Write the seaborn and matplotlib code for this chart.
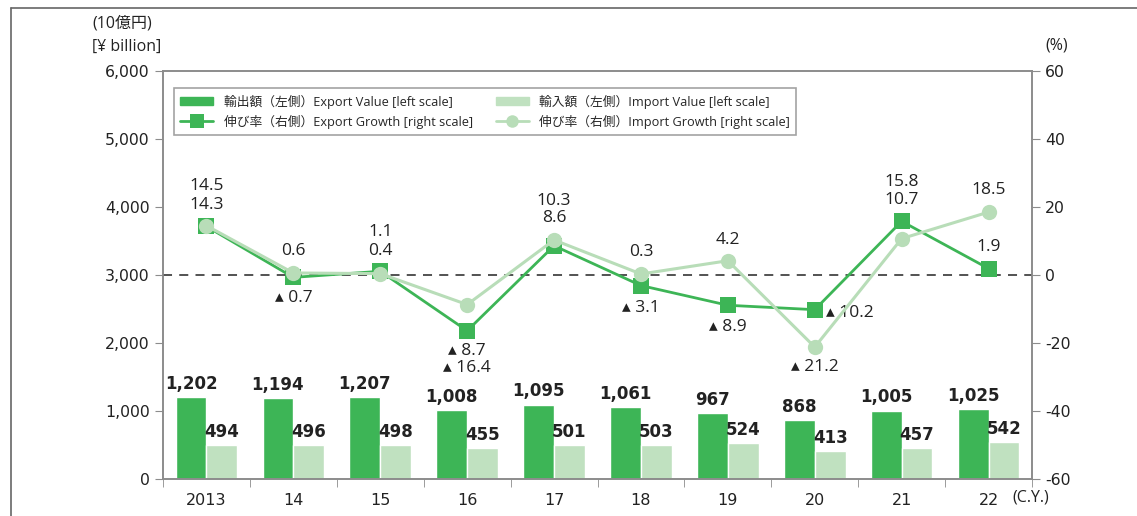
import numpy as np
import pandas as pd
import seaborn as sns
import matplotlib.pyplot as plt
from matplotlib.patches import Patch
from matplotlib.lines import Line2D

years = ['2013', '14', '15', '16', '17', '18', '19', '20', '21', '22']
export_value = [1202, 1194, 1207, 1008, 1095, 1061, 967, 868, 1005, 1025]
import_value = [494, 496, 498, 455, 501, 503, 524, 413, 457, 542]
export_growth = [14.3, -0.7, 1.1, -16.4, 8.6, -3.1, -8.9, -10.2, 15.8, 1.9]
import_growth = [14.5, 0.6, 0.4, -8.7, 10.3, 0.3, 4.2, -21.2, 10.7, 18.5]

# label offsets in pixels (dx, dy) relative to each point
exp_off = [(0, 21), (0, -21), (0, 39), (0, -37), (0, 28), (0, -22), (0, -22), (11, -3), (0, 39), (0, 22)]
imp_off = [(0, 40), (0, 22), (0, 23), (0, -46), (0, 39), (0, 22), (0, 21), (0, -20), (0, 39), (0, 22)]

dark = '#3db556'
light = '#c0e1c0'
light_line = '#b8ddb8'
frame = '#8c8c8c'

sns.set_style('white')
plt.rcParams['font.family'] = ['DejaVu Sans', 'Noto Sans CJK JP']
plt.rcParams['axes.unicode_minus'] = False
num_font = ['Open Sans', 'DejaVu Sans', 'Noto Sans CJK JP']
jp_font = ['Open Sans', 'Noto Sans CJK JP', 'DejaVu Sans']

df = pd.DataFrame({'year': years * 2,
                   'kind': ['export'] * len(years) + ['import'] * len(years),
                   'value': export_value + import_value})

fig = plt.figure(figsize=(11.37, 5.16), dpi=100)
ax = fig.add_axes([163 / 1137, 1 - 479 / 516, (1032 - 163) / 1137, (479 - 71) / 516])

sns.barplot(data=df, x='year', y='value', hue='kind', palette=[dark, light],
            width=0.71, saturation=1, legend=False, ax=ax)
for cont in ax.containers:
    ax.bar_label(cont, labels=[f'{v:,.0f}' for v in cont.datavalues],
                 fontsize=12, fontweight='bold', color='#222222', padding=3)

ax.set_ylim(0, 6000)
ax.set_yticks(range(0, 6001, 1000))
ax.set_yticklabels([f'{v:,}' for v in range(0, 6001, 1000)])
ax.set_xlabel('')
ax.set_ylabel('')

ax2 = ax.twinx()
pos = np.arange(len(years))
ax2.axhline(0, color='#444444', ls=(0, (5, 4)), lw=1.3, zorder=1)
sns.lineplot(x=pos, y=export_growth, ax=ax2, color=dark, lw=2, marker='s',
             markersize=12, markeredgewidth=0, zorder=3)
sns.lineplot(x=pos, y=import_growth, ax=ax2, color=light_line, lw=2.2, marker='o',
             markersize=11, markeredgewidth=0, zorder=4)
ax2.set_ylim(-60, 60)
ax2.set_yticks(range(-60, 61, 20))
ax.set_xlim(-0.5, len(years) - 0.5)


def fmt(v):
    return f'{v:.1f}' if v >= 0 else f'▴ {abs(v):.1f}'


for i in range(len(years)):
    for vals, offs in ((export_growth, exp_off), (import_growth, imp_off)):
        dx, dy = offs[i]
        ax2.annotate(fmt(vals[i]), (pos[i], vals[i]), xytext=(dx, dy),
                     textcoords='offset pixels', ha='left' if dx else 'center',
                     va='center', fontsize=12.5, family=num_font, color='#222222')

# axes styling
for a in (ax, ax2):
    for s in a.spines.values():
        s.set_color(frame)
        s.set_linewidth(1.2)
ax.tick_params(axis='y', direction='out', length=6, color=frame, labelsize=11.3,
               left=True, labelcolor='#222222')
ax2.tick_params(axis='y', direction='out', length=6, color=frame, labelsize=11.3,
                right=True, labelcolor='#222222')
ax.set_xticks(pos)
ax.set_xticklabels(years, fontsize=11.5, color='#222222')
ax.tick_params(axis='x', length=0, pad=10)
ax.set_xticks(np.arange(-0.5, len(years), 1), minor=True)
ax.tick_params(axis='x', which='minor', direction='out', length=6, color=frame, bottom=True)

handles = [Patch(color=dark),
           Line2D([], [], color=dark, lw=2, marker='s', markersize=10, mew=0),
           Patch(color=light),
           Line2D([], [], color=light_line, lw=2, marker='o', markersize=9, mew=0)]
labels = ['輸出額（左側）Export Value [left scale]',
          '伸び率（右側）Export Growth [right scale]',
          '輸入額（左側）Import Value [left scale]',
          '伸び率（右側）Import Growth [right scale]']
leg = ax2.legend(handles, labels, ncol=2, loc='upper left', bbox_to_anchor=(0.005, 0.973),
                 prop={'family': jp_font, 'size': 9.2}, frameon=True, fancybox=False,
                 edgecolor=frame, handlelength=2.6, handleheight=0.6,
                 columnspacing=1.8, borderpad=0.5, labelspacing=0.45)
leg.get_frame().set_linewidth(1.2)

fig.text(122 / 1137, 1 - 23 / 516, '(10億円)', ha='center', va='center',
         fontsize=11.5, family=jp_font, color='#222222')
fig.text(127 / 1137, 1 - 47 / 516, '[¥ billion]', ha='center', va='center',
         fontsize=11.5, family=jp_font, color='#222222')
fig.text(1057 / 1137, 1 - 45 / 516, '(%)', ha='center', va='center',
         fontsize=11.5, family=jp_font, color='#222222')
fig.text(1012 / 1137, 1 - 497 / 516, '(C.Y.)', ha='left', va='center',
         fontsize=11.5, family=num_font, color='#222222')

# outer frame
fig.add_artist(Line2D([11 / 1137, 11 / 1137], [0, 1 - 8 / 516], transform=fig.transFigure,
                      color='#666666', lw=1.2))
fig.add_artist(Line2D([11 / 1137, 1], [1 - 8 / 516, 1 - 8 / 516], transform=fig.transFigure,
                      color='#666666', lw=1.2))

fig.savefig('out.png', dpi=100)
